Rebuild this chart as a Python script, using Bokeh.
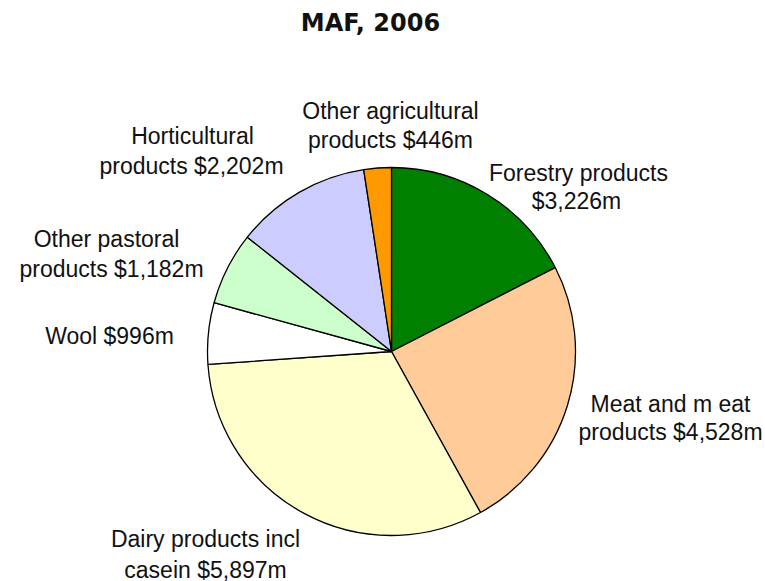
import math
from bokeh.plotting import figure
from bokeh.models import ColumnDataSource, Range1d
from bokeh.core.properties import value
from bokeh.embed import file_html
from bokeh.resources import INLINE

# ---- data ----
categories = ["Forestry products", "Meat and meat products", "Dairy products incl casein",
              "Wool", "Other pastoral products", "Horticultural products",
              "Other agricultural products"]
values_m = [3226, 4528, 5897, 996, 1182, 2202, 446]
colors = ["#007F00", "#FFCC99", "#FFFFCC", "#FFFFFF", "#CCFFCC", "#CCCCFF", "#FF9900"]
label_line1 = ["Forestry products", "Meat and m eat", "Dairy products incl", "Wool $996m",
               "Other pastoral", "Horticultural", "Other agricultural"]
label_line2 = ["$3,226m", "products $4,528m", "casein $5,897m", "",
               "products $1,182m", "products $2,202m", "products $446m"]
title_text = "MAF, 2006"

# ---- layout (pixel space) ----
W, H = 765, 581
def px(sx):
    return sx
def py(sy):
    return H - sy

cx, cy, R = px(391), py(351), 184
# label centres (screen px) for line 1 and line 2
lab1 = [(578, 172), (670, 403), (205, 538), (109, 335), (106, 238), (192, 135), (390, 110)]
lab2 = [(576, 200), (670, 431), (205, 569), (0, 0), (111, 268), (191, 165), (390, 139)]

total = float(sum(values_m))
starts, ends = [], []
cum = 0.0
for v in values_m:
    starts.append(math.pi / 2 - 2 * math.pi * cum / total)
    cum += v
    ends.append(math.pi / 2 - 2 * math.pi * cum / total)

src = ColumnDataSource(dict(start=starts, end=ends, color=colors, cat=categories, val=values_m))

p = figure(width=W, height=H, output_backend="svg", toolbar_location=None,
           x_range=Range1d(0, W), y_range=Range1d(0, H),
           x_axis_location=None, y_axis_location=None, min_border=0)
p.outline_line_color = None
p.grid.visible = False
p.background_fill_color = "white"
p.border_fill_color = "white"

p.wedge(x=cx, y=cy, radius=R, start_angle="start", end_angle="end", direction="clock",
        fill_color="color", line_color="black", line_width=1.3, source=src)

font = value("Liberation Sans")
fs = "23px"
l1x = [px(a) for a, b in lab1]
l1y = [py(b) for a, b in lab1]
p.text(x=l1x, y=l1y, text=label_line1, text_font=font, text_font_size=fs,
       text_align="center", text_baseline="middle", text_color="#111111")
l2 = [(px(a), py(b), t) for (a, b), t in zip(lab2, label_line2) if t]
p.text(x=[a for a, b, t in l2], y=[b for a, b, t in l2], text=[t for a, b, t in l2],
       text_font=font, text_font_size=fs, text_align="center",
       text_baseline="middle", text_color="#111111")

p.text(x=[px(370)], y=[py(22)], text=[title_text], text_font=value("DejaVu Sans"),
       text_font_style="bold", text_font_size="24px", text_align="center",
       text_baseline="middle", text_color="#111111")

open("out.html", "w").write(file_html(p, INLINE))
